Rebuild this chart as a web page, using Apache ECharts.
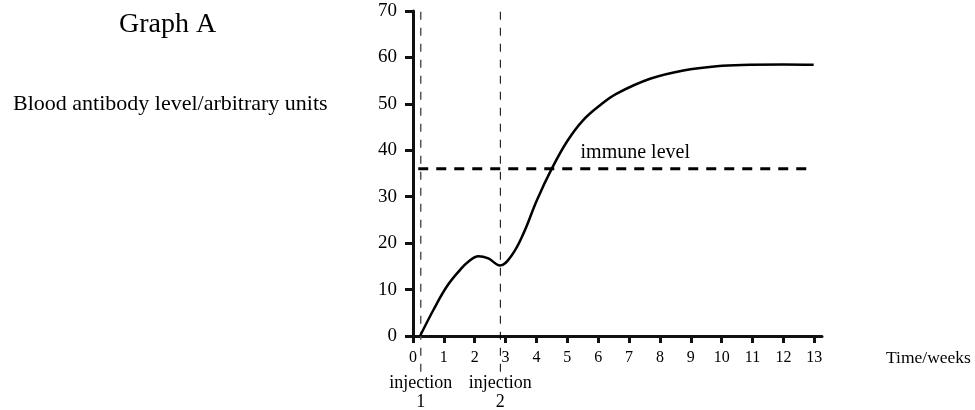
<!DOCTYPE html>
<html>
<head>
<meta charset="utf-8">
<script src="https://cdn.jsdelivr.net/npm/echarts@6/dist/echarts.min.js"></script>
<style>html,body{margin:0;padding:0;background:#fff}#c{width:975px;height:410px}</style>
</head>
<body>
<div id="c"></div>
<script>
const chartTitle = 'Graph A';
const yAxisTitle = 'Blood antibody level/arbitrary units';
const xAxisTitle = 'Time/weeks';
const xTicks = [0,1,2,3,4,5,6,7,8,9,10,11,12,13];
const yTicks = [0,10,20,30,40,50,60,70];
const timeWeeks = [0.23, 0.66, 1.09, 1.52, 1.79, 2.12, 2.44, 2.82, 3.2, 3.58, 4.01, 4.5, 5.0, 5.5, 6.06, 6.6, 7.68, 8.76, 9.84, 10.92, 12.0, 12.98];
const antibody  = [0, 5.6, 10.6, 14.2, 16.0, 17.2, 16.7, 15.2, 17.4, 22.1, 29.2, 36.1, 42.0, 46.4, 49.7, 52.2, 55.4, 57.2, 58.1, 58.4, 58.5, 58.4];
const immuneLevel = 36;
const immuneLabel = 'immune level';
const immuneRange = [0.17, 12.9];
const injectionWeeks = [0.25, 2.83];
const injectionLabels = ['injection\n1', 'injection\n2'];
const injectionSpan = [-7.7, 70.6];

const serif = '"Liberation Serif", "DejaVu Serif", serif';
const chart = echarts.init(document.getElementById('c'));

const injectionSeries = injectionWeeks.map((w, i) => ({
  type: 'line',
  clip: false,
  silent: true,
  symbol: 'circle',
  symbolSize: 0,
  lineStyle: { color: i === 0 ? '#555' : '#000', width: i === 0 ? 1.5 : 1, type: [8, 8] },
  data: [
    { value: [w, injectionSpan[0]], label: { show: true, position: 'bottom', distance: 2, formatter: injectionLabels[i], fontFamily: serif, fontSize: 18, lineHeight: 19, color: '#000' } },
    { value: [w, injectionSpan[1]] }
  ]
}));

chart.setOption({
  animation: false,
  title: [
    { text: chartTitle, left: 114, top: 6, textStyle: { fontFamily: serif, fontSize: 28, fontWeight: 'normal', color: '#000' } },
    { text: yAxisTitle, left: 8, top: 88, textStyle: { fontFamily: serif, fontSize: 22, fontWeight: 'normal', color: '#000' } }
  ],
  grid: { left: 413, top: 11, width: 409, height: 325 },
  xAxis: {
    type: 'value', min: 0, max: 13.25, interval: 1,
    name: xAxisTitle, nameLocation: 'end', nameGap: 64,
    nameTextStyle: { fontFamily: serif, fontSize: 17.5, color: '#000', verticalAlign: 'top', align: 'left', padding: [13, 0, 0, 0] },
    axisLine: { lineStyle: { color: '#111', width: 3 } },
    axisTick: { length: 7, lineStyle: { color: '#111', width: 3 }, customValues: xTicks },
    axisLabel: { margin: 14, fontFamily: serif, fontSize: 16, color: '#000', customValues: xTicks },
    splitLine: { show: false }
  },
  yAxis: {
    type: 'value', min: 0, max: 70, interval: 10,
    axisLine: { show: true, lineStyle: { color: '#111', width: 3 } },
    axisTick: { show: true, length: 8, lineStyle: { color: '#111', width: 3 } },
    axisLabel: { margin: 16, fontFamily: serif, fontSize: 19, color: '#000', customValues: yTicks },
    splitLine: { show: false }
  },
  series: [
    ...injectionSeries,
    {
      type: 'line',
      silent: true,
      symbol: 'circle',
      symbolSize: 0,
      lineStyle: { color: '#000', width: 3, type: [10, 8] },
      data: [
        { value: [immuneRange[0], immuneLevel] },
        { value: [7.2, immuneLevel], label: { show: true, position: 'top', distance: 6, formatter: immuneLabel, fontFamily: serif, fontSize: 20, color: '#000' } },
        { value: [immuneRange[1], immuneLevel] }
      ]
    },
    {
      type: 'line',
      silent: true,
      symbol: 'none',
      smooth: 0.4,
      lineStyle: { color: '#000', width: 2.5 },
      data: timeWeeks.map((t, i) => [t, antibody[i]])
    }
  ]
});
</script>
</body>
</html>
